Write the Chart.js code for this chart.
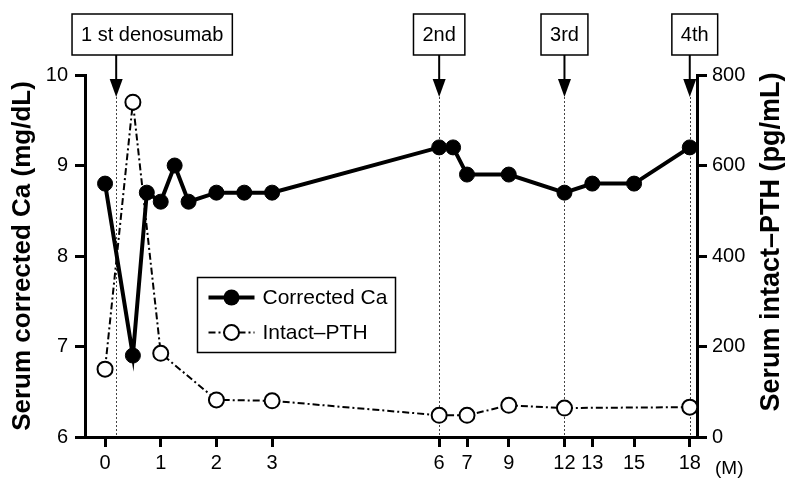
<!DOCTYPE html>
<html>
<head>
<meta charset="utf-8">
<script src="https://cdn.jsdelivr.net/npm/chart.js@4.4.1/dist/chart.umd.min.js"></script>
<style>
  html, body { margin: 0; padding: 0; background: #fff; }
  #wrap { width: 788px; height: 480px; position: relative; }
</style>
</head>
<body>
<div id="wrap"><canvas id="chart"></canvas></div>
<script>
// 数据
const caMonths = [0, 0.5, 0.75, 1, 1.25, 1.5, 2, 2.5, 3, 6, 6.5, 7, 9, 12, 13, 15, 18];
const caValues = [8.8, 6.9, 8.7, 8.6, 9.0, 8.6, 8.7, 8.7, 8.7, 9.2, 9.2, 8.9, 8.9, 8.7, 8.8, 8.8, 9.2];
const pthMonths = [0, 0.5, 1, 2, 3, 6, 7, 9, 12, 18];
const pthValues = [150, 740, 185, 82, 80, 48, 48, 70, 64, 66];
const tickMonths = [0, 1, 2, 3, 6, 7, 9, 12, 13, 15, 18];
const doseMonths = [0.2, 6, 12, 18];
const doseLabels = ['1 st denosumab', '2nd', '3rd', '4th'];

// x轴不是等距的，按刻度分段映射
const axisStops = [0, 1, 2, 3, 6, 6.5, 7.25, 8.25, 8.75, 9.5, 10.5];
function monthToAxis(m) {
    for (let i = 0; i < tickMonths.length - 1; i++) {
        const a = tickMonths[i], b = tickMonths[i + 1];
        if (m <= b) {
            return axisStops[i] + (m - a) / (b - a) * (axisStops[i + 1] - axisStops[i]);
        }
    }
    return axisStops[axisStops.length - 1];
}

const FONT = '"Liberation Sans", Arial, sans-serif';

const annotations = {
    id: 'annotations',
    beforeDatasetsDraw(chart) {
        const ctx = chart.ctx;
        const x = chart.scales.x;
        const area = chart.chartArea;
        ctx.save();
        ctx.strokeStyle = '#444';
        ctx.lineWidth = 1;
        ctx.setLineDash([2, 2]);
        doseMonths.forEach(m => {
            const px = Math.round(x.getPixelForValue(monthToAxis(m))) + 0.5;
            ctx.beginPath();
            ctx.moveTo(px, 97);
            ctx.lineTo(px, area.bottom);
            ctx.stroke();
        });
        ctx.restore();
    },
    afterDraw(chart) {
        const ctx = chart.ctx;
        const x = chart.scales.x;
        const area = chart.chartArea;
        const boxShift = [36, 0, 0, 5];
        ctx.save();
        ctx.font = '20px ' + FONT;
        ctx.textAlign = 'center';
        ctx.textBaseline = 'middle';
        doseMonths.forEach((m, i) => {
            const px = x.getPixelForValue(monthToAxis(m));
            const w = ctx.measureText(doseLabels[i]).width + 18;
            const cx = px + boxShift[i];
            ctx.fillStyle = '#fff';
            ctx.fillRect(cx - w / 2, 14, w, 41);
            ctx.strokeStyle = '#000';
            ctx.lineWidth = 1.5;
            ctx.strokeRect(cx - w / 2, 14, w, 41);
            ctx.fillStyle = '#000';
            ctx.fillText(doseLabels[i], cx, 35);
            // 箭头
            ctx.lineWidth = 2;
            ctx.beginPath();
            ctx.moveTo(px, 55);
            ctx.lineTo(px, 82);
            ctx.stroke();
            ctx.beginPath();
            ctx.moveTo(px - 6.5, 79);
            ctx.lineTo(px + 6.5, 79);
            ctx.lineTo(px, 97);
            ctx.closePath();
            ctx.fill();
        });

        // 图例
        const lx = area.left + 112.5, ly = area.top + 202.5;
        ctx.fillStyle = '#fff';
        ctx.fillRect(lx, ly, 198, 75);
        ctx.strokeStyle = '#000';
        ctx.lineWidth = 1.5;
        ctx.strokeRect(lx, ly, 198, 75);
        const rows = [ly + 20, ly + 55];
        // Corrected Ca
        ctx.lineWidth = 4;
        ctx.beginPath();
        ctx.moveTo(lx + 11, rows[0]);
        ctx.lineTo(lx + 57, rows[0]);
        ctx.stroke();
        ctx.beginPath();
        ctx.arc(lx + 34, rows[0], 8, 0, Math.PI * 2);
        ctx.fillStyle = '#000';
        ctx.fill();
        // Intact-PTH
        ctx.lineWidth = 2;
        ctx.setLineDash([7, 3, 2, 3]);
        ctx.beginPath();
        ctx.moveTo(lx + 11, rows[1]);
        ctx.lineTo(lx + 57, rows[1]);
        ctx.stroke();
        ctx.setLineDash([]);
        ctx.beginPath();
        ctx.arc(lx + 34, rows[1], 7.5, 0, Math.PI * 2);
        ctx.fillStyle = '#fff';
        ctx.fill();
        ctx.stroke();
        ctx.fillStyle = '#000';
        ctx.font = '21px ' + FONT;
        ctx.textAlign = 'left';
        ctx.fillText('Corrected Ca', lx + 65, rows[0] + 1);
        ctx.fillText('Intact\u2013PTH', lx + 65, rows[1] + 1);

        // 月份单位
        ctx.font = '19px ' + FONT;
        ctx.fillText('(M)', area.right + 18, 469);

        // 右轴标题（与左轴同方向旋转）
        ctx.font = 'bold 27px ' + FONT;
        ctx.textAlign = 'center';
        ctx.translate(772, 242);
        ctx.rotate(-Math.PI / 2);
        ctx.fillText('Serum intact\u2013PTH (pg/mL)', 0, 0);
        ctx.restore();
    }
};

const axisCommon = {
    grid: { drawOnChartArea: false, drawTicks: true, tickLength: 10, lineWidth: 3, color: '#000' },
    border: { display: true, width: 3, color: '#000' },
    ticks: { color: '#000', font: { family: FONT, size: 20 } }
};

new Chart(document.getElementById('chart'), {
    type: 'line',
    data: {
        datasets: [{
            label: 'Corrected Ca',
            data: caMonths.map((m, i) => ({ x: monthToAxis(m), y: caValues[i] })),
            yAxisID: 'y',
            borderColor: '#000',
            borderWidth: 4,
            pointRadius: 7.5,
            pointBackgroundColor: '#000',
            pointBorderColor: '#000',
            pointBorderWidth: 1,
            tension: 0,
            clip: false
        }, {
            label: 'Intact\u2013PTH',
            data: pthMonths.map((m, i) => ({ x: monthToAxis(m), y: pthValues[i] })),
            yAxisID: 'y2',
            borderColor: '#000',
            borderWidth: 2,
            borderDash: [7, 3, 2, 3],
            pointRadius: 7.5,
            pointBackgroundColor: '#fff',
            pointBorderColor: '#000',
            pointBorderWidth: 2,
            tension: 0,
            clip: false
        }]
    },
    options: {
        responsive: true,
        maintainAspectRatio: false,
        animation: false,
        layout: { padding: { top: 75, left: 0, right: 0, bottom: 0 } },
        scales: {
            x: {
                type: 'linear',
                position: 'bottom',
                min: -0.36,
                max: 10.63,
                ...axisCommon,
                ticks: { ...axisCommon.ticks, padding: 4, maxRotation: 0, autoSkip: false,
                    callback: (v, i) => tickMonths[i] },
                afterBuildTicks: s => { s.ticks = tickMonths.map(m => ({ value: monthToAxis(m) })); },
                afterFit: s => { s.height = 43; }
            },
            y: {
                type: 'linear',
                position: 'left',
                min: 6,
                max: 10,
                ...axisCommon,
                ticks: { ...axisCommon.ticks, stepSize: 1, padding: 7 },
                title: { display: true, text: 'Serum corrected Ca (mg/dL)', color: '#000',
                    font: { family: FONT, size: 26, weight: 'bold' }, padding: { top: 7 } },
                afterFit: s => { s.width = 85; }
            },
            y2: {
                type: 'linear',
                position: 'right',
                min: 0,
                max: 800,
                ...axisCommon,
                ticks: { ...axisCommon.ticks, stepSize: 200, padding: 5 },
                afterFit: s => { s.width = 91; }
            }
        },
        plugins: {
            legend: { display: false },
            tooltip: { enabled: false }
        }
    },
    plugins: [annotations]
});
</script>
</body>
</html>
